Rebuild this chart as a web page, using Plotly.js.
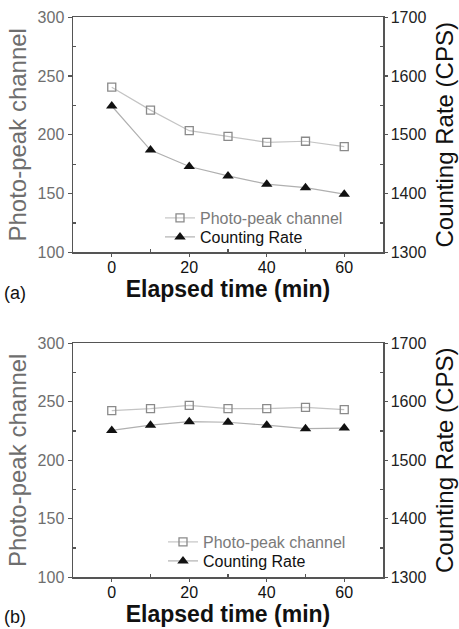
<!DOCTYPE html>
<html>
<head>
<meta charset="utf-8">
<script src="https://cdn.plot.ly/plotly-3.0.1.min.js"></script>
<style>html,body{margin:0;padding:0;background:#fff;}#chart{width:459px;height:629px;}</style>
</head>
<body>
<div id="chart"></div>
<script>
// Elapsed time (min)
const elapsedTime = [0, 10, 20, 30, 40, 50, 60];
// Panel (a)
const peakChannelA = [240.5, 221, 203.5, 198.7, 193.6, 194.5, 190];
const countRateA = [1549, 1474, 1446, 1430, 1416, 1410, 1399];
// Panel (b)
const peakChannelB = [242.5, 244.2, 247, 244.2, 244.2, 245.3, 243.3];
const countRateB = [1551, 1560, 1566, 1565, 1560, 1554, 1555];
const panelLabels = ['(a)', '(b)'];
const peakName = 'Photo-peak channel';
const rateName = 'Counting Rate';

const FONT = 'Liberation Sans, Arial, sans-serif';
const axisLine = '#555555';
const grayText = '#6e6e6e';

function peakTrace(y, xa, ya, lg) {
  return {
    x: elapsedTime, y: y, xaxis: xa, yaxis: ya, legend: lg, showlegend: true,
    name: '<span style="color:#7a7a7a">' + peakName + '</span>',
    type: 'scatter', mode: 'lines+markers',
    line: {color: '#c4c4c4', width: 1.2},
    marker: {symbol: 'square-open', size: 8, color: '#8a8a8a', line: {width: 1.3, color: '#8a8a8a'}}
  };
}
function rateTrace(y, xa, ya, lg) {
  return {
    x: elapsedTime, y: y, xaxis: xa, yaxis: ya, legend: lg, showlegend: true,
    name: '<span style="color:#111">' + rateName + '</span>',
    type: 'scatter', mode: 'lines+markers',
    line: {color: '#b0b0b0', width: 1.2},
    marker: {symbol: 'triangle-up', size: 10, color: '#111111'}
  };
}

const data = [
  peakTrace(peakChannelA, 'x', 'y', 'legend'),
  rateTrace(countRateA, 'x', 'y3', 'legend2'),
  peakTrace(peakChannelB, 'x2', 'y2', 'legend3'),
  rateTrace(countRateB, 'x2', 'y4', 'legend4')
];

const W = 459, H = 629;
const px = v => v / W;
const py = v => 1 - v / H;

function xAxis(domain, anchor) {
  return {
    domain: domain, anchor: anchor, range: [-10, 70],
    tickvals: [0, 20, 40, 60], ticks: 'outside', ticklen: 3, tickwidth: 1.2, tickcolor: axisLine,
    ticklabelstandoff: -3,
    minor: {tickvals: [10, 30, 50], ticks: 'inside', ticklen: 3, tickcolor: axisLine},
    showline: true, linecolor: axisLine, linewidth: 1.5, mirror: true,
    showgrid: false, zeroline: false,
    tickfont: {family: FONT, size: 16, color: '#111'},
    title: {text: '<b>Elapsed time (min)</b>', font: {family: FONT, size: 23, color: '#111'}, standoff: 3}
  };
}
function leftAxis(domain, anchor) {
  return {
    domain: domain, anchor: anchor, range: [100, 300],
    tickvals: [100, 150, 200, 250, 300], ticks: 'outside', ticklen: 4, tickwidth: 1.2, tickcolor: axisLine,
    minor: {tickvals: [125, 175, 225, 275], ticks: 'inside', ticklen: 3, tickcolor: axisLine},
    showline: true, linecolor: axisLine, linewidth: 1.5, mirror: false,
    showgrid: false, zeroline: false,
    tickfont: {family: FONT, size: 16, color: grayText},
    title: {text: 'Photo-peak channel', font: {family: FONT, size: 24, color: grayText}, standoff: 4}
  };
}
function rightAxis(overlay, anchor) {
  return {
    overlaying: overlay, anchor: anchor, side: 'right', range: [1300, 1700],
    tickvals: [1300, 1400, 1500, 1600, 1700], ticks: 'outside', ticklen: 3, tickwidth: 1.2, tickcolor: axisLine,
    minor: {tickvals: [1350, 1450, 1550, 1650], ticks: 'inside', ticklen: 3, tickcolor: axisLine},
    showline: true, linecolor: axisLine, linewidth: 1.5,
    showgrid: false, zeroline: false,
    tickfont: {family: FONT, size: 16, color: '#222'},
    title: {text: 'Counting Rate (CPS)', font: {family: FONT, size: 24, color: '#111'}, standoff: 11}
  };
}

function legendAt(xPix, yPix) {
  return {x: px(xPix), y: py(yPix), xanchor: 'left', yanchor: 'top', bgcolor: 'rgba(0,0,0,0)',
          font: {family: FONT, size: 16, color: '#111'}, tracegroupgap: 0};
}

const xDom = [px(73), px(383)];
const layout = {
  width: W, height: H,
  margin: {l: 0, r: 0, t: 0, b: 0},
  paper_bgcolor: '#fff', plot_bgcolor: '#fff',
  font: {family: FONT},
  showlegend: true,
  xaxis: xAxis(xDom, 'y'),
  yaxis: leftAxis([py(252.3), py(17.3)], 'x'),
  yaxis3: rightAxis('y', 'x'),
  xaxis2: xAxis(xDom, 'y2'),
  yaxis2: leftAxis([py(577.3), py(343.3)], 'x2'),
  yaxis4: rightAxis('y2', 'x2'),
  legend: legendAt(160, 201),
  legend2: legendAt(160, 220),
  legend3: legendAt(163, 525),
  legend4: legendAt(163, 544),
  annotations: [
    {text: panelLabels[0], xref: 'paper', yref: 'paper', x: px(2), y: py(293), xanchor: 'left', yanchor: 'middle',
     showarrow: false, font: {family: FONT, size: 18, color: '#111'}},
    {text: panelLabels[1], xref: 'paper', yref: 'paper', x: px(2), y: py(617), xanchor: 'left', yanchor: 'middle',
     showarrow: false, font: {family: FONT, size: 18, color: '#111'}}
  ]
};

Plotly.newPlot('chart', data, layout, {staticPlot: true, displayModeBar: false});
</script>
</body>
</html>
